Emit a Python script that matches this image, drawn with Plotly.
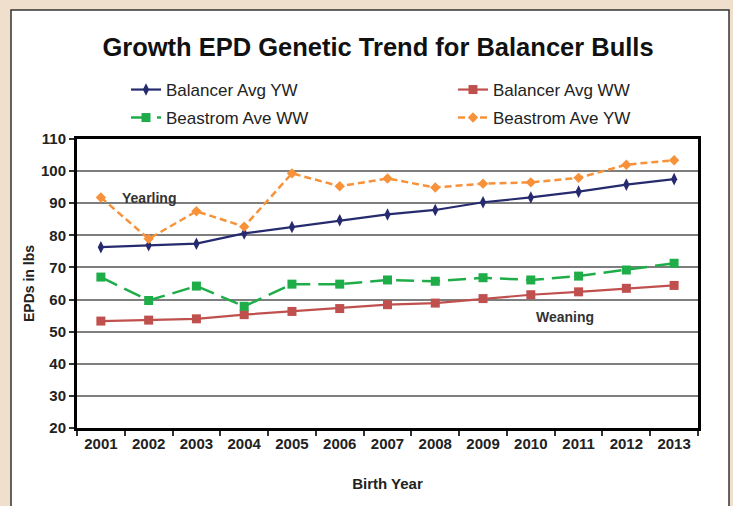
import plotly.graph_objects as go

years = ["2001", "2002", "2003", "2004", "2005", "2006", "2007",
         "2008", "2009", "2010", "2011", "2012", "2013"]
balancer_yw = [76.3, 76.9, 77.4, 80.6, 82.6, 84.7, 86.5, 87.9, 90.3, 91.8, 93.6, 95.8, 97.5]
balancer_ww = [53.3, 53.6, 54.0, 55.3, 56.3, 57.2, 58.4, 58.9, 60.3, 61.5, 62.4, 63.5, 64.4]
beastrom_ww = [67.0, 59.7, 64.2, 57.9, 64.8, 64.8, 66.1, 65.7, 66.8, 66.1, 67.3, 69.2, 71.3]
beastrom_yw = [91.8, 78.9, 87.5, 82.7, 99.3, 95.3, 97.7, 94.9, 96.1, 96.5, 97.9, 102.0, 103.4]
y_ticks = [20, 30, 40, 50, 60, 70, 80, 90, 100, 110]

FONT = "Liberation Sans, Arial, sans-serif"

fig = go.Figure()
fig.add_trace(go.Scatter(
    x=years, y=balancer_yw, name="Balancer Avg YW", mode="lines+markers",
    line=dict(color="#262a6e", width=2.2),
    marker=dict(symbol="diamond-tall", size=9, color="#262a6e"),
    legend="legend"))
fig.add_trace(go.Scatter(
    x=years, y=balancer_ww, name="Balancer Avg WW", mode="lines+markers",
    line=dict(color="#c0504d", width=2.2),
    marker=dict(symbol="square", size=9, color="#c0504d"),
    legend="legend2"))
fig.add_trace(go.Scatter(
    x=years, y=beastrom_ww, name="Beastrom Ave WW", mode="lines+markers",
    line=dict(color="#1fad4a", width=2.5, dash="18px,8px"),
    marker=dict(symbol="square", size=9, color="#1fad4a"),
    legend="legend3"))
fig.add_trace(go.Scatter(
    x=years, y=beastrom_yw, name="Beastrom Ave YW", mode="lines+markers",
    line=dict(color="#f7923a", width=2.5, dash="7px,4px"),
    marker=dict(symbol="diamond", size=8, color="#f7923a"),
    legend="legend4"))

L, R, T, B = 77, 35, 139, 78
W, H = 733, 506
pw, ph = W - L - R, H - T - B

def px_x(px):
    return (px - L) / pw

def px_y(py):
    return (H - B - py) / ph

def leg(xp, yp):
    return dict(
        orientation="h", xanchor="left", yanchor="middle",
        x=px_x(xp), y=px_y(yp),
        font=dict(family=FONT, size=17, color="#222222"),
        bgcolor="rgba(0,0,0,0)", borderwidth=0, itemwidth=30)

fig.update_layout(
    width=W, height=H,
    margin=dict(l=L, r=R, t=T, b=B),
    paper_bgcolor="#efdfcc",
    plot_bgcolor="white",
    title=dict(text="<b>Growth EPD Genetic Trend for Balancer Bulls</b>",
               font=dict(family=FONT, size=25.5, color="#111111"),
               x=378 / W, xanchor="center", y=1 - 47 / H, yanchor="middle"),
    legend=leg(126, 90),
    legend2=leg(453, 90),
    legend3=leg(126, 118),
    legend4=leg(453, 118),
    xaxis=dict(
        type="category", tickson="boundaries", ticks="outside", ticklen=5,
        tickwidth=1.5, tickcolor="#333333",
        showline=True, linecolor="black", linewidth=3, mirror=True,
        showgrid=False, range=[-0.5, 12.5],
        tickfont=dict(family=FONT, size=15, color="#222222", weight="bold"),
        title=dict(text="<b>Birth Year</b>", standoff=28,
                   font=dict(family=FONT, size=15, color="#222222"))),
    yaxis=dict(
        range=[20, 110], tickvals=y_ticks, ticks="outside", ticklen=5,
        tickwidth=1.5, tickcolor="#333333",
        showline=True, linecolor="black", linewidth=3, mirror=True,
        showgrid=True, gridcolor="#7e7e7e", gridwidth=2, zeroline=False,
        tickfont=dict(family=FONT, size=15, color="#222222", weight="bold"),
        title=dict(text="<b>EPDs in lbs</b>", standoff=4,
                   font=dict(family=FONT, size=14, color="#222222"))),
    showlegend=True,
)

# white panel behind the chart
fig.add_shape(type="rect", xref="paper", yref="paper",
              x0=px_x(11), x1=px_x(729), y0=px_y(520), y1=px_y(10),
              fillcolor="white", line=dict(color="#333333", width=1.5),
              layer="below")

fig.add_annotation(x=1, y=91.6, xref="x", yref="y", text="<b>Yearling</b>",
                   showarrow=False,
                   font=dict(family=FONT, size=14, color="#333333"))
fig.add_annotation(x=9.71, y=54.6, xref="x", yref="y", text="<b>Weaning</b>",
                   showarrow=False,
                   font=dict(family=FONT, size=14, color="#333333"))

fig.write_html("out.html",
               config={"displayModeBar": False},
               post_script="document.body.style.margin='0';"
                           "document.body.style.overflow='hidden';")
